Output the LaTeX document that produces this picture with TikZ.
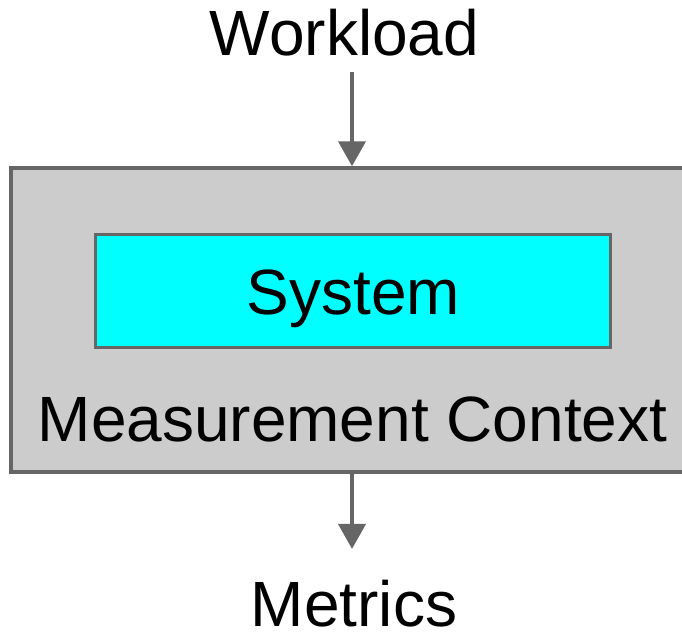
\documentclass[tikz,border=0pt]{standalone}
\usepackage{fontspec}
\setmainfont{Liberation Sans}
\usetikzlibrary{arrows.meta}
\definecolor{edgegray}{HTML}{666666}
\definecolor{boxgray}{HTML}{CCCCCC}
\definecolor{syscyan}{HTML}{00FFFF}
\begin{document}
\begin{tikzpicture}[x=1pt,y=-1pt,
  lbl/.style={inner sep=0pt,anchor=base,font=\fontsize{64}{76}\selectfont},
  arr/.style={draw=edgegray,line width=4pt,-{Triangle[width=27pt,length=25pt]}}]
\useasboundingbox (0,0) rectangle (682,638);
\clip (0,0) rectangle (682,638);
\fill[white] (0,0) rectangle (682,638);
\node[draw=edgegray,fill=boxgray,line width=3.5pt,minimum width=682pt,minimum height=304pt,inner sep=0pt] (outer) at (352,320) {};
\node[draw=edgegray,fill=syscyan,line width=3pt,minimum width=515pt,minimum height=113pt,inner sep=0pt] (inner) at (352.5,291) {};
\node[lbl] (system) at (353.5,314) {System};
\node[lbl] (context) at (352.5,441) {Measurement Context};
\node[lbl] (workload) at (344.5,55.5) {Workload};
\node[lbl] (metrics) at (354,626.5) {Metrics};
\draw[arr,shorten <=16pt] (workload.south -| outer.north) -- (outer.north);
\draw[arr,shorten >=31pt] (outer.south) -- (outer.south |- metrics.north);
\end{tikzpicture}
\end{document}
